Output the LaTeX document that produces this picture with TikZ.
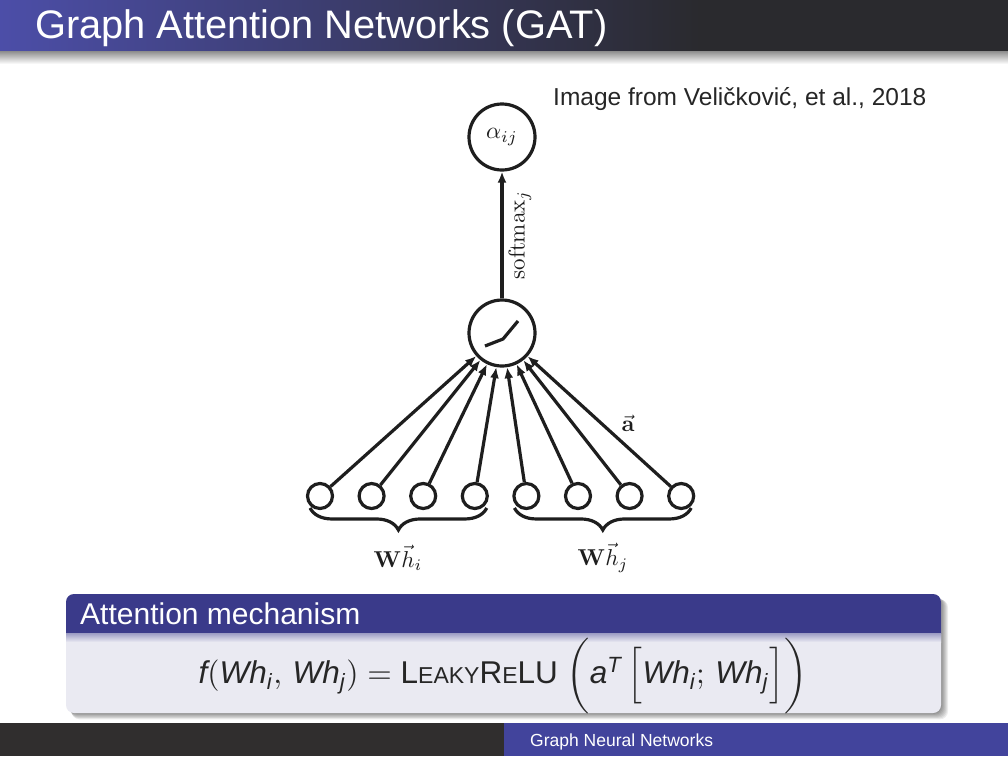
\documentclass[tikz,border=0pt]{standalone}
\usepackage{amsmath}
\usepackage{graphicx}
\usepackage[no-math]{fontspec}
\newfontfamily\lsans{Liberation Sans}
\usetikzlibrary{arrows.meta,decorations.pathreplacing}
\definecolor{titleblue}{RGB}{76,78,168}
\definecolor{titledark}{RGB}{42,42,46}
\definecolor{blockblue}{RGB}{58,58,138}
\definecolor{blockbody}{RGB}{234,234,242}
\definecolor{footdark}{RGB}{48,46,46}
\definecolor{footblue}{RGB}{66,68,156}
\definecolor{ink}{RGB}{30,30,30}
\newcommand{\dmath}[2][2.2]{\scalebox{#1}{\fontsize{10}{12}\selectfont #2}}
\tikzset{
  bignode/.style={circle, draw=ink, line width=3.2pt, minimum size=66pt, inner sep=0pt},
  smallnode/.style={circle, draw=ink, line width=3.2pt, minimum size=25pt, inner sep=0pt},
  conn/.style={draw=ink, line width=3.2pt, -{Latex[length=11pt,width=9pt]}},
  bracestyle/.style={draw=ink, line width=3.2pt, decorate, decoration={brace, mirror, amplitude=22pt}},
  diagmath/.style={text=ink, inner sep=1pt},
}
\begin{document}
\begin{tikzpicture}[x=1pt,y=-1pt]
\useasboundingbox (0,0) rectangle (1008,756);
\fill[white] (0,0) rectangle (1008,756);
% title bar
\shade[left color=titleblue, right color=titledark] (0,0) rectangle (700,51);
\fill[titledark] (699.5,0) rectangle (1008,51);
\shade[top color=black!45, bottom color=white] (0,51) rectangle (1008,64);
\node[anchor=base west, text=white, inner sep=0pt, font=\lsans\fontsize{39.8}{44}\selectfont] (title) at (35,38) {Graph Attention Networks (GAT)};
% credit
\node[anchor=base west, inner sep=0pt, text=black!85, font=\lsans\fontsize{24.5}{28}\selectfont] (credit) at (553,105) {Image from Veličković, et al., 2018};
% diagram
\node[bignode, diagmath] (alpha) at (502,137) {\dmath[2.35]{$\alpha_{ij}$}};
\node[bignode] (act) at (502,333) {};
\draw[draw=ink, line width=3.2pt] ([shift={(-17,13)}]act.center) -- ([shift={(1,6)}]act.center) -- ([shift={(16,-12)}]act.center);
\draw[conn] (act) -- (alpha) node[pos=0.5, sloped, below=4pt, diagmath] (smx) {\dmath[2.3]{$\mathrm{softmax}_j$}};
\foreach \k in {0,...,7} {
  \node[smallnode] (n\k) at (320+51.6*\k, 496) {};
}
\foreach \k in {0,...,7} {
  \draw[conn] (n\k) -- (act);
}
\node[diagmath] (avec) at (628,423) {\dmath[2.3]{$\vec{\mathbf{a}}$}};
\coordinate (bl1) at ([shift={(0,2)}]n0.south west);
\coordinate (bl2) at ([shift={(2,2)}]n3.south east);
\coordinate (br1) at ([shift={(-2,2)}]n4.south west);
\coordinate (br2) at ([shift={(0,2)}]n7.south east);
\draw[bracestyle] (bl1) -- (bl2);
\draw[bracestyle] (br1) -- (br2);
\node[diagmath] (whi) at (398,558) {\dmath[2.3]{$\mathbf{W}\vec{h}_i$}};
\node[diagmath] (whj) at (603,558) {\dmath[2.3]{$\mathbf{W}\vec{h}_j$}};
% block shadow
\foreach \s in {1,...,7} {
  \fill[black, opacity=0.07, rounded corners=8] (66+\s*0.5+2,594+\s*0.5+2) rectangle (941+\s,713+\s*0.9);
}
\fill[blockbody, rounded corners=8] (66,594) rectangle (941,713);
\begin{scope}
  \clip (0,580) rectangle (1008,633);
  \fill[blockblue, rounded corners=8] (66,594) rectangle (941,713);
\end{scope}
\shade[top color=blockblue!45!blockbody, bottom color=blockbody] (66,633) rectangle (941,642);
\node[anchor=base west, inner sep=0pt, text=white, font=\lsans\fontsize{30}{36}\selectfont] (btitle) at (80,624) {Attention mechanism};
\node[text=black!85, inner sep=0pt] (formula) at (503,676)
  {\scalebox{3.15}{\lsans\fontsize{10}{12}\selectfont $\textit{f}(\textit{Wh}_{\textit{i}},\,\textit{Wh}_{\textit{j}}) = \text{L{\fontsize{7.3}{9}\selectfont EAKY}R{\fontsize{7.3}{9}\selectfont E}LU}\;\biggl(\textit{a}^{\textit{T}}\,\Bigl[\textit{Wh}_{\textit{i}};\,\textit{Wh}_{\textit{j}}\Bigr]\biggr)$}};
% footer
\fill[footdark] (0,723) rectangle (504,756);
\fill[footblue] (504,723) rectangle (1008,756);
\node[anchor=base west, inner sep=0pt, text=white, font=\lsans\fontsize{17.5}{20}\selectfont] (foot) at (530,746) {Graph Neural Networks};
\end{tikzpicture}
\end{document}
